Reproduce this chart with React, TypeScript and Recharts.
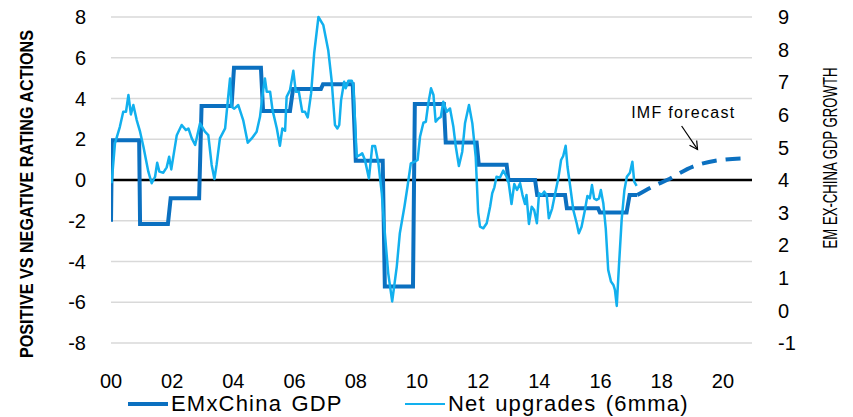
import {
  CartesianGrid,
  ComposedChart,
  Legend,
  Line,
  ReferenceDot,
  ReferenceLine,
  XAxis,
  YAxis,
} from "recharts";

// Net upgrades (6mma), left axis (x in years since 2000)
const upgradeYears = [
  0.02, 0.13, 0.29, 0.4, 0.49, 0.57, 0.65, 0.73, 0.84, 0.95, 1.06, 1.22, 1.33,
  1.44, 1.51, 1.58, 1.71, 1.82, 1.9, 1.97, 2.15, 2.31, 2.45, 2.53, 2.64, 2.75,
  2.91, 3.07, 3.18, 3.29, 3.38, 3.45, 3.56, 3.73, 3.83, 3.89, 3.94, 4.03, 4.16,
  4.32, 4.47, 4.6, 4.76, 4.87, 4.96, 5.03, 5.09, 5.2, 5.28, 5.42, 5.52, 5.6,
  5.69, 5.74, 5.85, 5.96, 6.04, 6.14, 6.25, 6.34, 6.43, 6.54, 6.64, 6.78, 6.94,
  7.1, 7.21, 7.32, 7.4, 7.46, 7.52, 7.62, 7.67, 7.76, 7.87, 7.92, 8.03, 8.14,
  8.21, 8.3, 8.43, 8.54, 8.63, 8.74, 8.85, 8.95, 9.06, 9.19, 9.34, 9.44, 9.59,
  9.69, 9.8, 9.93, 10.02, 10.1, 10.21, 10.29, 10.37, 10.46, 10.54, 10.61, 10.7,
  10.78, 10.86, 10.97, 11.08, 11.19, 11.27, 11.37, 11.48, 11.57, 11.7, 11.81,
  11.92, 12.0, 12.06, 12.17, 12.28, 12.39, 12.46, 12.53, 12.6, 12.71, 12.82,
  12.93, 13.0, 13.09, 13.18, 13.27, 13.37, 13.45, 13.53, 13.58, 13.66, 13.75,
  13.83, 13.92, 13.99, 14.08, 14.16, 14.24, 14.31, 14.42, 14.53, 14.62, 14.71,
  14.78, 14.86, 14.92, 15.01, 15.11, 15.22, 15.29, 15.38, 15.49, 15.57, 15.65,
  15.72, 15.79, 15.87, 15.95, 16.01, 16.09, 16.17, 16.25, 16.34, 16.42, 16.47,
  16.53, 16.6, 16.69, 16.78, 16.86, 16.96, 17.04, 17.1, 17.18,
];
const upgradeValues = [
  -0.16, 1.8, 2.61, 3.35, 3.35, 4.17, 3.22, 3.68, 2.94, 2.37, 1.63, 0.41, -0.16,
  0.16, 0.85, 0.41, 0.36, 0.62, 1.14, 0.52, 2.2, 2.7, 2.45, 2.53, 2.04, 1.72,
  2.78, 2.37, 2.2, 0.74, 0.05, 0.74, 2.04, 2.53, 4.08, 4.98, 3.6, 3.5, 3.68,
  2.94, 1.83, 2.04, 2.37, 3.1, 4.25, 4.98, 4.33, 4.33, 3.43, 2.53, 1.68, 2.53,
  2.42, 4.08, 4.41, 5.36, 4.33, 4.33, 3.35, 3.35, 3.07, 4.25, 6.21, 8.0, 7.6,
  6.37, 4.9, 2.7, 2.53, 2.7, 3.92, 4.82, 4.5, 4.87, 4.87, 4.66, 1.14, 1.23,
  1.31, 0.98, 0.08, 1.67, 1.67, 0.82, -0.65, -2.61, -4.57, -5.96, -4.25, -2.61,
  -1.31, -0.33, 0.82, 0.9, 0.98, 2.12, 2.81, 2.86, 3.76, 4.5, 4.17, 2.86, 3.02,
  3.1, 3.84, 3.35, 3.51, 2.61, 1.63, 0.69, 1.39, 2.78, 3.68, 2.78, 1.14, -1.6,
  -2.29, -2.37, -2.12, -1.31, -0.65, -0.36, 0.16, 0.11, 0.46, 0.16, -0.16,
  -1.18, -0.2, -0.49, -0.16, -0.74, -1.18, -0.74, -2.16, -1.31, -1.47, -2.12,
  -0.65, -0.74, -0.57, -0.74, -1.88, -1.39, -0.57, 0.08, 0.98, 1.18, 1.68, 0.65,
  -0.33, -1.47, -2.12, -2.61, -2.29, -1.47, -0.78, -0.9, -0.25, -0.9, -0.98,
  -0.9, -0.49, -1.14, -2.37, -4.41, -4.98, -5.15, -5.39, -6.18, -4.25, -1.96,
  -0.49, 0.16, 0.36, 0.9, -0.08, -0.29,
];

// EM ex-China GDP growth (annual steps), right axis
const gdpYears = [
  0.0, 0.03, 0.92, 0.95, 1.86, 1.95, 2.88, 2.96, 3.94, 4.02, 4.9, 4.97, 5.85,
  5.95, 6.86, 6.93, 7.9, 8.0, 8.88, 8.95, 9.87, 9.93, 10.88, 10.94, 11.95,
  12.02, 12.93, 12.99, 13.86, 13.93, 14.84, 14.9, 15.92, 15.98, 16.85, 16.95,
  17.2,
];
const gdpValues = [
  2.72, 5.22, 5.22, 2.65, 2.65, 3.44, 3.44, 6.27, 6.27, 7.44, 7.44, 6.12, 6.12,
  6.79, 6.79, 6.94, 6.94, 4.59, 4.59, 0.73, 0.73, 6.33, 6.33, 5.15, 5.15, 4.47,
  4.47, 4.0, 4.0, 3.54, 3.54, 3.13, 3.13, 3.0, 3.0, 3.54, 3.54,
];

// IMF forecast, right axis
const forecastYears = [17.2, 17.71, 18.17, 19.02, 19.9, 20.8];
const forecastValues = [3.54, 3.8, 4.0, 4.41, 4.61, 4.67];

const xTicks = [0, 2, 4, 6, 8, 10, 12, 14, 16, 18, 20];
const leftTicks = [-8, -6, -4, -2, 0, 2, 4, 6, 8];
const rightTicks = [-1, 0, 1, 2, 3, 4, 5, 6, 7, 8, 9];

const upgrades = upgradeYears.map((t, i) => ({ t, v: upgradeValues[i] }));
const gdp = gdpYears.map((t, i) => ({ t, g: gdpValues[i] }));
const forecast = forecastYears.map((t, i) => ({ t, f: forecastValues[i] }));

const DARK = "#0b70c0";
const LIGHT = "#12b0ee";
const FONT = "'Liberation Sans', Arial, sans-serif";
const NARROW = "'Liberation Sans Narrow', 'Liberation Sans', Arial, sans-serif";

const tickStyle = { fill: "#000", fontSize: 20, fontFamily: FONT };

function LeftTitle(props: any) {
  const vb = props.viewBox ?? { x: 0, y: 17 };
  const cx = vb.x + 27;
  const cy = 194;
  return (
    <text
      x={cx}
      y={cy}
      transform={`rotate(-90 ${cx} ${cy})`}
      textAnchor="middle"
      dominantBaseline="central"
      fontFamily={NARROW}
      fontWeight={700}
      fontSize={18}
      textLength={328}
      lengthAdjust="spacingAndGlyphs"
      fill="#000"
    >
      POSITIVE VS NEGATIVE RATING ACTIONS
    </text>
  );
}

function RightTitle(props: any) {
  const vb = props.viewBox ?? { x: 752, y: 17 };
  const cx = vb.x + 78;
  const cy = 158;
  return (
    <text
      x={cx}
      y={cy}
      transform={`rotate(-90 ${cx} ${cy})`}
      textAnchor="middle"
      dominantBaseline="central"
      fontFamily={NARROW}
      fontSize={20}
      textLength={181}
      lengthAdjust="spacingAndGlyphs"
      fill="#000"
    >
      EM EX-CHINA GDP GROWTH
    </text>
  );
}

function Arrow(props: any) {
  const { x1, y1, x2, y2 } = props;
  const a = Math.atan2(y2 - y1, x2 - x1);
  const len = 9;
  const p1 = [x2 - len * Math.cos(a - 0.5), y2 - len * Math.sin(a - 0.5)];
  const p2 = [x2 - len * Math.cos(a + 0.5), y2 - len * Math.sin(a + 0.5)];
  return (
    <g stroke="#000" strokeWidth={1.2} fill="none">
      <line x1={x1} y1={y1} x2={x2} y2={y2} />
      <polyline points={`${p1[0]},${p1[1]} ${x2},${y2} ${p2[0]},${p2[1]}`} />
    </g>
  );
}

function ForecastNote(props: any) {
  return (
    <text
      x={props.cx}
      y={props.cy}
      dominantBaseline="central"
      fontFamily={FONT}
      fontSize={16}
      textLength={103}
      lengthAdjust="spacing"
      fill="#000"
    >
      IMF forecast
    </text>
  );
}

function LegendBox({ payload }: any) {
  const items = (payload ?? []).filter((p: any) => p.type !== "none");
  const starts = [128, 405];
  return (
    <div style={{ position: "relative", height: 26, fontFamily: FONT }}>
      {items.map((p: any, i: number) => (
        <div
          key={p.value}
          style={{
            position: "absolute",
            left: starts[i] ?? 0,
            top: 0,
            height: 26,
            display: "flex",
            alignItems: "center",
            gap: 3,
            whiteSpace: "nowrap",
          }}
        >
          <span
            style={{
              display: "inline-block",
              width: 40,
              height: i === 0 ? 4 : 2.5,
              background: p.color,
            }}
          />
          <span
            style={{
              fontSize: 22,
              letterSpacing: 1.2,
              wordSpacing: 2,
              color: "#000",
            }}
          >
            {p.value}
          </span>
        </div>
      ))}
    </div>
  );
}

export default function App() {
  return (
    <div style={{ position: "absolute", left: 0, top: 0, background: "#fff" }}>
      <ComposedChart
        width={853}
        height={417}
        margin={{ top: 17, right: 0, bottom: 0, left: 0 }}
      >
        <CartesianGrid vertical={false} stroke="#d9d9d9" strokeWidth={1.5} />
        <XAxis
          dataKey="t"
          type="number"
          domain={[0, 20.95]}
          ticks={xTicks}
          tickFormatter={(v: number) => String(v).padStart(2, "0")}
          axisLine={false}
          tickLine={false}
          tickMargin={25}
          height={48}
          tick={tickStyle}
          allowDataOverflow
        />
        <YAxis
          type="number"
          domain={[-8, 8]}
          ticks={leftTicks}
          axisLine={false}
          tickLine={false}
          tickMargin={19}
          width={111}
          tick={tickStyle}
          label={<LeftTitle />}
        />
        <YAxis
          yAxisId="right"
          orientation="right"
          type="number"
          domain={[-1, 9]}
          ticks={rightTicks}
          axisLine={false}
          tickLine={false}
          tickMargin={20}
          width={101}
          tick={{ ...tickStyle, textAnchor: "start" }}
          label={<RightTitle />}
        />
        <ReferenceLine y={0} stroke="#000" strokeWidth={2.5} />
        <Line
          data={gdp}
          dataKey="g"
          yAxisId="right"
          name="EMxChina GDP"
          type="linear"
          stroke={DARK}
          strokeWidth={4}
          dot={false}
          isAnimationActive={false}
        />
        <Line
          data={upgrades}
          dataKey="v"
          name="Net upgrades (6mma)"
          type="linear"
          stroke={LIGHT}
          strokeWidth={2.5}
          strokeLinejoin="round"
          dot={false}
          isAnimationActive={false}
        />
        <Line
          data={forecast}
          dataKey="f"
          yAxisId="right"
          name="IMF forecast"
          type="monotone"
          stroke={DARK}
          strokeWidth={4}
          strokeDasharray="15 9"
          dot={false}
          legendType="none"
          isAnimationActive={false}
        />
        <ReferenceLine
          segment={[
            { x: 18.65, y: 2.65 },
            { x: 19.17, y: 1.5 },
          ]}
          shape={Arrow}
          ifOverflow="visible"
        />
        <ReferenceDot
          x={17.0}
          y={3.33}
          r={0}
          shape={ForecastNote}
          ifOverflow="visible"
        />
        <Legend
          verticalAlign="bottom"
          height={26}
          content={LegendBox}
          wrapperStyle={{ left: 0, width: 853 }}
        />
      </ComposedChart>
    </div>
  );
}
